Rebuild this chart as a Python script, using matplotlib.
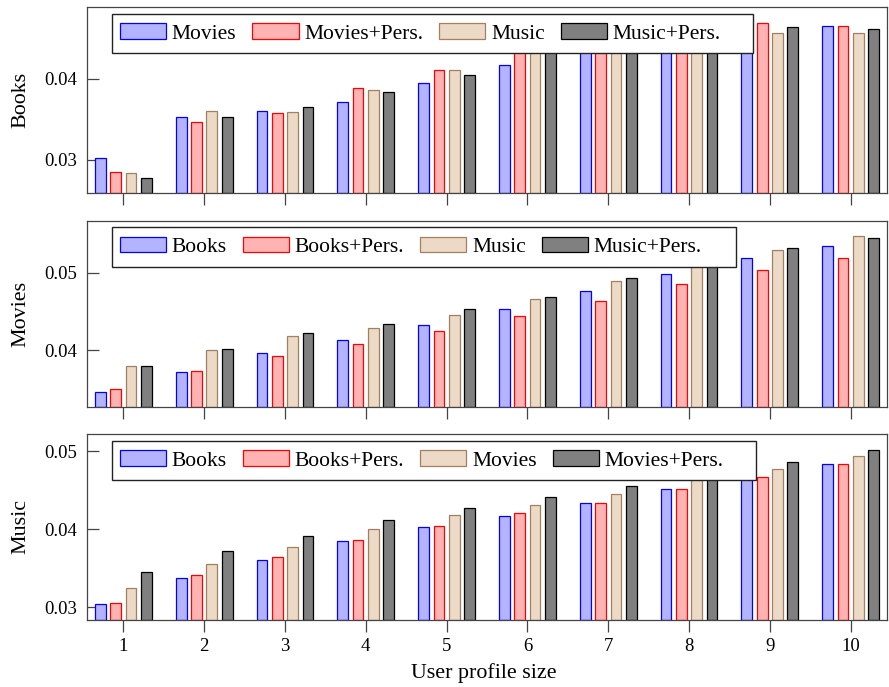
import matplotlib
matplotlib.use("Agg")
import matplotlib.pyplot as plt
from matplotlib.patches import Rectangle
import numpy as np

plt.rcParams['font.family'] = ['Liberation Serif', 'DejaVu Serif']
plt.rcParams['mathtext.fontset'] = 'stix'

profile_sizes = [1, 2, 3, 4, 5, 6, 7, 8, 9, 10]

# Target: Books
books_labels = ["Movies", "Movies+Pers.", "Music", "Music+Pers."]
books_movies      = [0.0302, 0.0353, 0.0361, 0.0372, 0.0395, 0.0417, 0.0450, 0.0455, 0.0455, 0.0465]
books_movies_pers = [0.0285, 0.0347, 0.0358, 0.0389, 0.0411, 0.0440, 0.0455, 0.0460, 0.0469, 0.0466]
books_music       = [0.0284, 0.0360, 0.0359, 0.0386, 0.0411, 0.0445, 0.0458, 0.0460, 0.0457, 0.0457]
books_music_pers  = [0.0277, 0.0353, 0.0365, 0.0384, 0.0405, 0.0445, 0.0455, 0.0460, 0.0464, 0.0462]

# Target: Movies
movies_labels = ["Books", "Books+Pers.", "Music", "Music+Pers."]
movies_books      = [0.03465, 0.0372, 0.0397, 0.0413, 0.0433, 0.0453, 0.0477, 0.0499, 0.0519, 0.0535]
movies_books_pers = [0.0350, 0.0373, 0.0393, 0.0408, 0.0425, 0.0444, 0.0464, 0.0486, 0.0504, 0.0519]
movies_music      = [0.0380, 0.0400, 0.0418, 0.0429, 0.0446, 0.0466, 0.0489, 0.0512, 0.0529, 0.0547]
movies_music_pers = [0.0380, 0.0402, 0.0422, 0.0434, 0.0453, 0.0469, 0.0493, 0.0515, 0.0532, 0.0545]

# Target: Music
music_labels = ["Books", "Books+Pers.", "Movies", "Movies+Pers."]
music_books       = [0.03043, 0.0338, 0.0361, 0.0385, 0.0403, 0.0417, 0.0434, 0.0451, 0.0466, 0.0484]
music_books_pers  = [0.0306, 0.0341, 0.0364, 0.0387, 0.0404, 0.0421, 0.0434, 0.0452, 0.0467, 0.0484]
music_movies      = [0.0325, 0.0356, 0.0378, 0.0401, 0.0418, 0.0431, 0.0445, 0.0465, 0.0477, 0.0494]
music_movies_pers = [0.0345, 0.0372, 0.0392, 0.0412, 0.0427, 0.0441, 0.0456, 0.0472, 0.0486, 0.0502]

fills = ['#B3B3FF', '#FFB3B3', '#ECD9C6', '#808080']
edges = ['#0000FF', '#FF0000', '#A08060', '#000000']

W, H = 889, 687
fig = plt.figure(figsize=(W / 100, H / 100), dpi=100)

AX_L, AX_R = 87, 887

def px_axes(top, bottom):
    return fig.add_axes([AX_L / W, 1 - bottom / H, (AX_R - AX_L) / W, (bottom - top) / H])

# (name, labels, series, (axes top px, axes bottom px), ylim, yticks, legend frame px (x0, y0, x1, y1))
panels = [
    ("Books", books_labels, [books_movies, books_movies_pers, books_music, books_music_pers],
     (7, 193), (0.0259, 0.0489), [0.03, 0.04], (111.7, 14, 753, 53.3)),
    ("Movies", movies_labels, [movies_books, movies_books_pers, movies_music, movies_music_pers],
     (221, 406.7), (0.0327, 0.0567), [0.04, 0.05], (111.7, 227, 736, 266.7)),
    ("Music", music_labels, [music_books, music_books_pers, music_movies, music_movies_pers],
     (434, 620), (0.0284, 0.0522), [0.03, 0.04, 0.05], (111.7, 440.7, 756, 480)),
]

x = np.array(profile_sizes, dtype=float)
step = 0.19
width = 0.133
spine_col = '#444444'
FS = 15.5

for name, labels, series, (top, bottom), ylim, yticks, (fx0, fy0, fx1, fy1) in panels:
    ax = px_axes(top, bottom)
    aw = AX_R - AX_L
    ah = bottom - top
    handles = []
    for i, vals in enumerate(series):
        off = (i - 1.5) * step
        b = ax.bar(x + off, np.array(vals) - ylim[0], width, bottom=ylim[0],
                   color=fills[i], edgecolor=edges[i], linewidth=0.9, label=labels[i], zorder=2)
        handles.append(b)
    ax.set_xlim(0.55, 10.45)
    ax.set_ylim(*ylim)
    ax.set_yticks(yticks)
    ax.set_yticklabels([f"{v:.2f}" for v in yticks])
    ax.set_xticks(profile_sizes)
    for s in ax.spines.values():
        s.set_color(spine_col)
        s.set_linewidth(0.9)
    ax.tick_params(axis='y', direction='in', length=8.4, width=0.9, color=spine_col,
                   labelsize=13.5, pad=7)
    ax.tick_params(axis='x', direction='out', length=8.4, width=0.9, color=spine_col,
                   labelsize=13.5, pad=4.5)
    if name != "Music":
        ax.set_xticklabels([])
    ax.set_ylabel(name, fontsize=15.8)
    ax.yaxis.set_label_coords(-0.071, 0.5)

    # legend frame (white box drawn over the bars)
    frame = Rectangle(((fx0 - AX_L) / aw, (bottom - fy1) / ah), (fx1 - fx0) / aw, (fy1 - fy0) / ah,
                      transform=ax.transAxes, facecolor='white', edgecolor='#222222',
                      linewidth=1.0, zorder=8, clip_on=False)
    ax.add_patch(frame)
    cy = (fy0 + fy1) / 2
    leg = ax.legend(handles=handles, ncol=4, loc='center left',
                    bbox_to_anchor=((fx0 + 8.3 - AX_L) / aw, (bottom - cy) / ah),
                    borderaxespad=0, borderpad=0, fontsize=FS, frameon=False,
                    handlelength=2.14, handleheight=0.74,
                    handletextpad=0.27, columnspacing=0.74)
    leg.set_zorder(10)

fig.text(484 / W, 1 - 673 / H, "User profile size", ha='center', va='center', fontsize=15.8)

fig.savefig("out.png", dpi=100)
